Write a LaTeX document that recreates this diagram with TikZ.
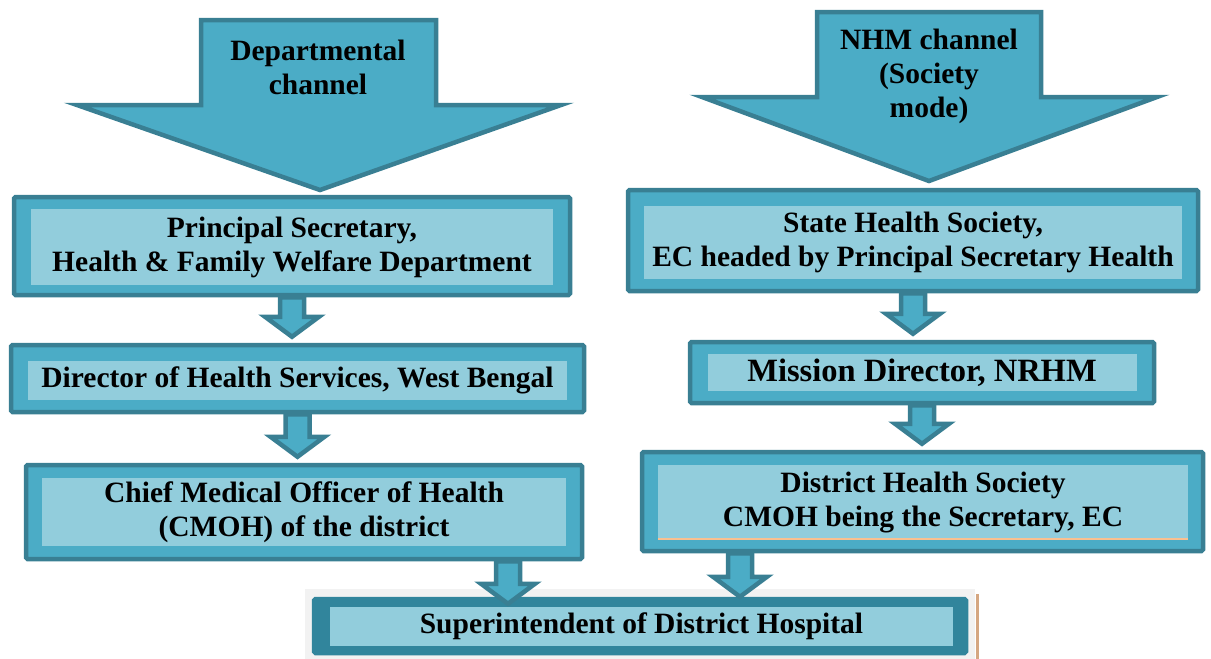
\documentclass[tikz,border=0pt]{standalone}
\usepackage{fontspec}
\setmainfont{Liberation Serif}
\usetikzlibrary{calc}

\definecolor{tealmid}{HTML}{4BACC6}
\definecolor{teallight}{HTML}{92CDDC}
\definecolor{tealdark}{HTML}{397F93}
\definecolor{tealdeep}{HTML}{31859C}
\definecolor{greybg}{HTML}{F2F2F2}
\definecolor{tanline}{HTML}{D5A782}
\definecolor{peach}{HTML}{FAC090}

\tikzset{
    frame/.style={draw=tealdark, fill=tealmid, line width=4.5pt, rounded corners=1.5pt, inner sep=0pt},
    pane/.style={fill=teallight, inner sep=0pt, align=center,
                 font=\fontsize{29.5}{34}\selectfont\bfseries},
    blockarrow/.style={draw=tealdark, fill=tealmid, line width=4.5pt, line join=miter},
    label text/.style={align=center, font=\fontsize{29.5}{34}\selectfont\bfseries},
}

% small block arrow from the bottom of one box to the top of the next
\newcommand{\flowarrow}[3]{%
    \draw[blockarrow] let \p1=(#1), \p2=(#2) in
        (\x1-12pt,\y1) -- (\x1+12pt,\y1) -- (\x1+12pt,\y2+#3+20pt) -- (\x1+27pt,\y2+#3+20pt)
        -- (\x1,\y2+#3) -- (\x1-27pt,\y2+#3+20pt) -- (\x1-12pt,\y2+#3+20pt) -- cycle;}

\begin{document}
\begin{tikzpicture}[x=1pt, y=-1pt]
    \useasboundingbox (0,0) rectangle (1211,659);

    % the two channels
    \draw[blockarrow] (201,20) -- (436,20) -- (436,105) -- (561,105) -- (320,190)
        -- (77,105) -- (201,105) -- cycle;
    \node[label text] (dept) at (318,67) {Departmental\\channel};
    \draw[blockarrow] (817,12) -- (1041,12) -- (1041,97) -- (1157,97) -- (929,181)
        -- (702,97) -- (817,97) -- cycle;
    \node[label text] (nhm) at (929,76) {NHM channel\\(Society\\mode)};

    % departmental side
    \node[frame, minimum width=556, minimum height=98] (ps) at (292,246) {};
    \node[pane, minimum width=522, minimum height=76] (ps-in) at (292,247)
        {Principal Secretary,\\Health \& Family Welfare Department};
    \node[frame, minimum width=573, minimum height=67] (dhs) at (297.5,378.5) {};
    \node[pane, minimum width=539, minimum height=39] (dhs-in) at (297.5,380)
        {Director of Health Services, West Bengal};
    \node[frame, minimum width=556, minimum height=94] (cmoh) at (304,512) {};
    \node[pane, minimum width=524, minimum height=68] (cmoh-in) at (304,512)
        {Chief Medical Officer of Health\\(CMOH) of the district};

    % society side
    \node[frame, minimum width=570, minimum height=101] (shs) at (913,240.5) {};
    \node[pane, minimum width=538, minimum height=73] (shs-in) at (913,242)
        {State Health Society,\\EC headed by Principal Secretary Health};
    \node[frame, minimum width=464, minimum height=61] (md) at (922,372.5) {};
    \node[pane, minimum width=429, minimum height=37, font=\fontsize{32.5}{36}\selectfont\bfseries] (md-in) at (922,372.5)
        {Mission Director, NRHM};
    \node[frame, minimum width=561, minimum height=99] (dhsoc) at (922.5,501.5) {};
    \node[pane, minimum width=530, minimum height=75] (dhsoc-in) at (923,502.5)
        {District Health Society\\CMOH being the Secretary, EC};
    \draw[peach, line width=2pt] ([yshift=1pt]dhsoc-in.south west) -- ([yshift=1pt]dhsoc-in.south east);

    % hospital
    \fill[greybg] (305,589) rectangle (975,659);
    \draw[tanline, line width=3pt] (977.5,594) -- (977.5,659);
    \node[frame, draw=tealdeep, fill=tealdeep, minimum width=652, minimum height=54] (sup) at (640,626) {};
    \node[pane, minimum width=623, minimum height=39] (sup-in) at (641.5,626.5)
        {Superintendent of District Hospital};

    % connectors
    \flowarrow{ps.south}{dhs.north}{6pt}
    \flowarrow{dhs.south}{cmoh.north}{6pt}
    \flowarrow{shs.south}{md.north}{6pt}
    \flowarrow{md.south}{dhsoc.north}{6pt}
    \flowarrow{[xshift=204pt]cmoh.south}{sup.north}{-7pt}
    \flowarrow{[xshift=-182.5pt]dhsoc.south}{sup.north}{0pt}
\end{tikzpicture}
\end{document}
